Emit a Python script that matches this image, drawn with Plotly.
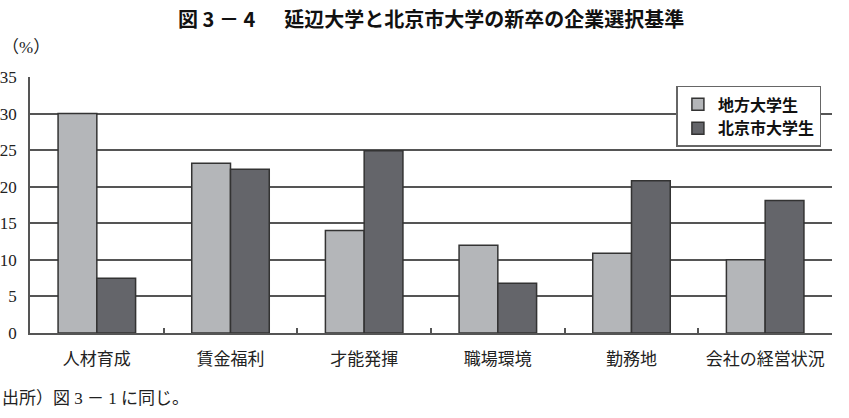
import plotly.graph_objects as go

categories = ["人材育成", "賃金福利", "才能発揮", "職場環境", "勤務地", "会社の経営状況"]
local_univ = [30.0, 23.2, 14.0, 12.0, 10.9, 10.0]
beijing_univ = [7.5, 22.4, 24.9, 6.8, 20.8, 18.1]
series_names = ["地方大学生", "北京市大学生"]
y_ticks = [0, 5, 10, 15, 20, 25, 30, 35]

serif = "'Liberation Serif', 'Times New Roman', 'Noto Sans CJK JP', serif"
gothic = "'Noto Sans CJK JP', sans-serif"

fig = go.Figure()
fig.add_trace(go.Bar(x=categories, y=local_univ, name=series_names[0],
                     marker=dict(color="#b4b6b9", line=dict(color="#333333", width=1.5))))
fig.add_trace(go.Bar(x=categories, y=beijing_univ, name=series_names[1],
                     marker=dict(color="#64656a", line=dict(color="#333333", width=1.5))))

fig.update_layout(
    width=849, height=418,
    margin=dict(l=30, r=17, t=77, b=85),
    paper_bgcolor="white", plot_bgcolor="white",
    barmode="group", bargap=0.42, bargroupgap=0,
    showlegend=True,
    legend=dict(x=0.806, y=0.965, xanchor="left", yanchor="top",
                bordercolor="#666666", borderwidth=1.5, bgcolor="white",
                font=dict(family=gothic, size=16, color="#111111", weight="bold"),
                itemwidth=30, tracegroupgap=6),
    font=dict(family=serif, size=17, color="#222222"),
)
fig.update_xaxes(showline=True, linecolor="#555555", linewidth=1.5,
                 ticks="inside", tickson="boundaries", ticklen=5, tickcolor="#555555",
                 tickwidth=1.5, showgrid=False, automargin=False, ticklabelstandoff=10,
                 tickangle=0,
                 tickfont=dict(family=serif, size=17, color="#222222"))
fig.update_yaxes(range=[0, 35], tickvals=y_ticks, showgrid=True, gridcolor="#555555",
                 gridwidth=1.5, showline=True, linecolor="#555555", linewidth=1.5,
                 ticks="", zeroline=False, ticklabelstandoff=8, automargin=False,
                 tickfont=dict(family=serif, size=17, color="#222222"))

fig.add_annotation(text="<b>図 3 － 4　  延辺大学と北京市大学の新卒の企業選択基準</b>",
                   xref="paper", yref="paper", x=0.5, y=1, yshift=59,
                   xanchor="center", yanchor="middle", showarrow=False,
                   font=dict(family=gothic, size=20, color="#111111"))
fig.add_annotation(text="（%）", xref="paper", yref="paper", x=0, xshift=-30, y=1, yshift=30,
                   xanchor="left", yanchor="middle", showarrow=False,
                   font=dict(family=serif, size=17, color="#222222"))
fig.add_annotation(text="出所）図 3 － 1 に同じ。", xref="paper", yref="paper", x=0, xshift=-30,
                   y=0, yshift=-65, xanchor="left", yanchor="middle", showarrow=False,
                   font=dict(family=serif, size=17, color="#222222"))

fig.write_html("out.html")
